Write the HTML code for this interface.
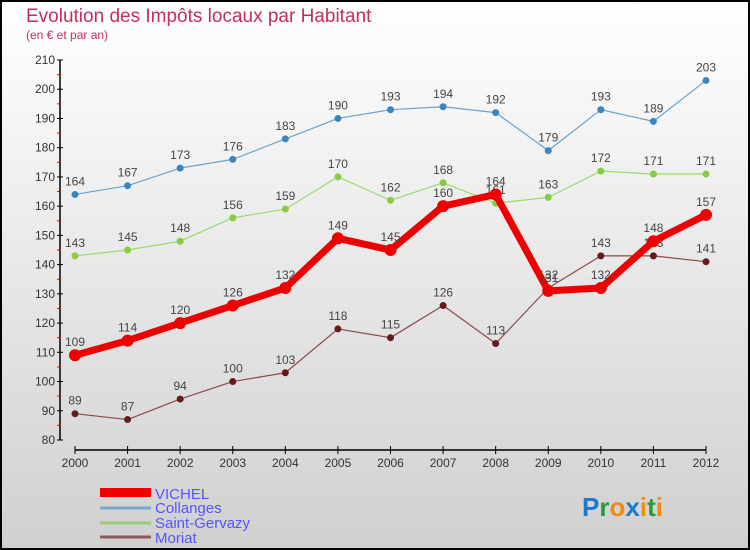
<!DOCTYPE html>
<html><head><meta charset="utf-8"><style>
body{margin:0;width:750px;height:550px;overflow:hidden}
svg{display:block;font-family:"Liberation Sans",sans-serif}
</style></head><body>
<svg width="750" height="550">
<defs><linearGradient id="bg" x1="0" y1="0" x2="0" y2="1"><stop offset="0" stop-color="#ffffff"/><stop offset="1" stop-color="#d0d0d0"/></linearGradient></defs>
<rect x="1" y="1" width="748" height="548" fill="url(#bg)" stroke="#000" stroke-width="2"/>
<text x="26" y="22" font-size="19" fill="#c0305a">Evolution des Impôts locaux par Habitant</text>
<text x="26" y="39" font-size="12" fill="#c0305a">(en € et par an)</text>
<g id="axes"></g>
<g id="series"></g>
<g>
<rect x="100" y="488" width="51" height="9" fill="#e00"/>
<text x="155" y="499" font-size="15" fill="#5555ff">VICHEL</text>
<line x1="100" y1="508" x2="151" y2="508" stroke="#7aa8cc" stroke-width="3"/>
<text x="155" y="513" font-size="15" fill="#5555ff">Collanges</text>
<line x1="100" y1="523" x2="151" y2="523" stroke="#99cc77" stroke-width="3"/>
<text x="155" y="528" font-size="15" fill="#5555ff">Saint-Gervazy</text>
<line x1="100" y1="537" x2="151" y2="537" stroke="#8a5a5a" stroke-width="3"/>
<text x="155" y="543" font-size="15" fill="#5555ff">Moriat</text>
</g>
<text x="582" y="516" font-size="26" font-weight="bold"><tspan fill="#1a7acc">P</tspan><tspan fill="#2a9a3a">r</tspan><tspan fill="#f08a10">o</tspan><tspan fill="#1a7acc">x</tspan><tspan fill="#f08a10">i</tspan><tspan fill="#2a9a3a">t</tspan><tspan fill="#f08a10">i</tspan></text>
</svg>
<script>
const years=[2000,2001,2002,2003,2004,2005,2006,2007,2008,2009,2010,2011,2012];
const vichel=[109,114,120,126,132,149,145,160,164,131,132,148,157];
const collanges=[164,167,173,176,183,190,193,194,192,179,193,189,203];
const saintGervazy=[143,145,148,156,159,170,162,168,161,163,172,171,171];
const moriat=[89,87,94,100,103,118,115,126,113,132,143,143,141];
const yTicks=[80,90,100,110,120,130,140,150,160,170,180,190,200,210];
const NS="http://www.w3.org/2000/svg";
const xS=i=>75+i*(706-75)/(years.length-1);
const yS=v=>440-(v-80)*(380/130);
function mk(tag,at,parent,txt){const e=document.createElementNS(NS,tag);for(const k in at)e.setAttribute(k,at[k]);if(txt!==undefined)e.textContent=txt;parent.appendChild(e);return e;}
const ax=document.getElementById('axes');
let e=mk('line',{x1:60,y1:yS(210),x2:60,y2:yS(80),stroke:'#000','stroke-width':1.5},ax);


e=mk('line',{x1:75,y1:450,x2:706,y2:450,stroke:'#000','stroke-width':1.5},ax);


yTicks.forEach((v,i)=>{
 mk('line',{x1:57,y1:yS(v),x2:63,y2:yS(v),stroke:'#000'},ax);
 if(i<yTicks.length-1)mk('line',{x1:57,y1:yS(v+5),x2:61,y2:yS(v+5),stroke:'#e00'},ax);
 const t=mk('text',{x:55,y:yS(v)+4,'text-anchor':'end','font-size':12,fill:'#333'},ax,v);
 
 
});
years.forEach((y,i)=>{
 mk('line',{x1:xS(i),y1:446,x2:xS(i),y2:454,stroke:'#000'},ax);
 const t=mk('text',{x:xS(i),y:467,'text-anchor':'middle','font-size':12,fill:'#333'},ax,y);
 
 
});
const sg=document.getElementById('series');
function draw(vals,name,line,dot,w,r){
 const g=mk('g',{},sg);
 
 
 mk('polyline',{points:vals.map((v,i)=>xS(i)+','+yS(v)).join(' '),fill:'none',stroke:line,'stroke-width':w,'stroke-linejoin':'round'},g);
 vals.forEach((v,i)=>{
  const c=mk('circle',{cx:xS(i),cy:yS(v),r:r,fill:dot},g);
  
  
  const t=mk('text',{x:xS(i),y:yS(v)-9,'text-anchor':'middle','font-size':12,fill:'#444'},g,v);
  
  
 });
}
draw(collanges,'collanges','#6aa3d0','#3a85c0',1.2,3.5);
draw(saintGervazy,'saint-gervazy','#99dd66','#88cc44',1.2,3.5);
draw(moriat,'moriat','#8a4a4a','#661a1a',1.2,3.5);
draw(vichel,'vichel','#ee0000','#ee0000',7,6);
</script>
</body></html>
